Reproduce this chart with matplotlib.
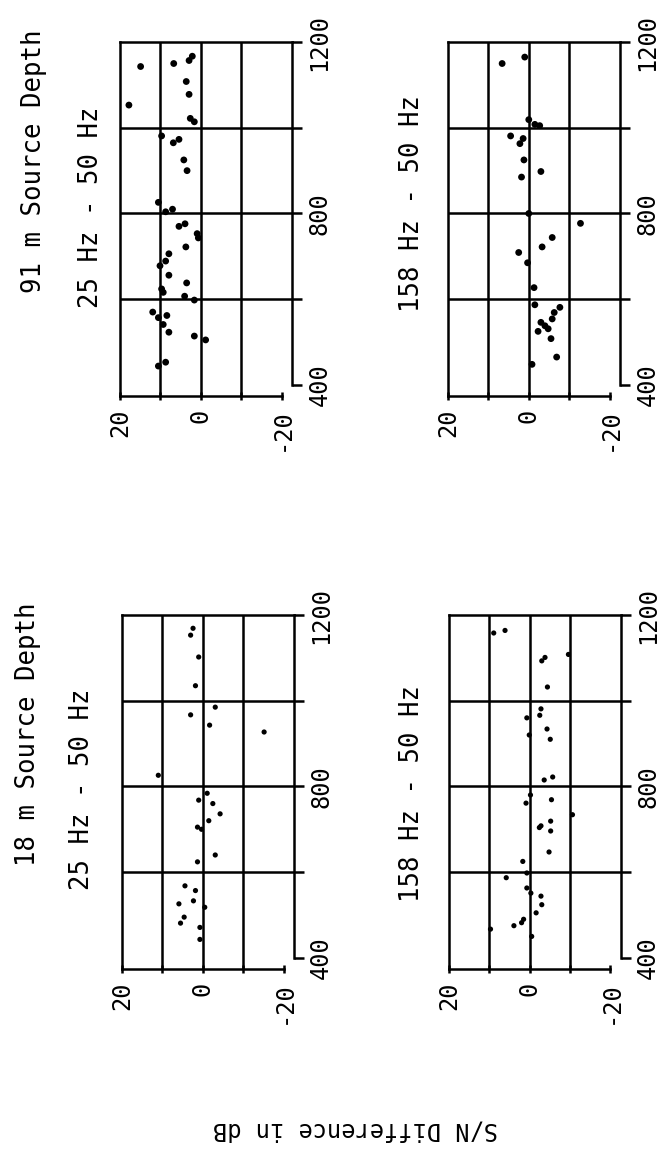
import matplotlib
matplotlib.use('Agg')
import matplotlib.pyplot as plt

plt.rcParams['font.family'] = ['DejaVu Sans Mono']

# S/N difference (dB) vs range, one pair of lists per panel
sn_91_25 = [14.9, 17.8, 6.7, 2.9, 2.1, 3.6, 2.9, 2.6, 1.6, 9.7, 6.8, 5.4, 4.2, 3.4,
            10.5, 8.7, 7.0, 5.4, 3.9, 0.9, 0.6, 3.7, 7.9, 8.7, 10.1, 7.9, 3.5,
            9.7, 9.3, 4.0, 1.6, 11.9, 10.5, 9.3, 7.9, 8.4, 1.6, -1.2, 10.5, 8.7]
rng_91_25 = [1143, 1053, 1150, 1157, 1167, 1108, 1078, 1022, 1014, 981, 965, 973, 925, 900,
             826, 804, 810, 770, 776, 753, 743, 722, 706, 689, 678, 656, 638,
             624, 616, 607, 598, 570, 557, 541, 523, 562, 514, 505, 444, 453]

sn_91_158 = [6.6, 1.0, 0.0, -1.5, -2.7, 4.5, 1.4, 2.2, 1.2, -3.0, 1.8, 0.0, -12.8,
             -5.8, -3.3, 2.5, 0.3, -1.3, -1.5, -3.0, -4.0, -4.8, -2.3, -5.5,
             -6.3, -7.7, -5.8, -6.9, -0.8]
rng_91_158 = [1150, 1165, 1019, 1008, 1005, 981, 975, 963, 925, 898, 885, 800, 777,
              744, 722, 709, 685, 627, 587, 546, 538, 531, 525, 508,
              569, 581, 554, 465, 448]

sn_18_25 = [2.4, 3.0, 1.0, 1.8, -3.1, 3.0, -1.7, -15.2, 11.0, -1.1, 1.0, -2.5, -4.3,
            -1.5, 1.3, 0.3, -3.1, 1.3, 4.4, 1.8, 2.3, 5.9, -0.5, 4.6, 5.5, 0.7, 0.7]
rng_18_25 = [1169, 1153, 1102, 1035, 985, 967, 943, 927, 826, 784, 768, 760, 736,
             720, 705, 700, 640, 624, 568, 557, 533, 526, 518, 495, 481, 471, 443]

sn_18_158 = [8.9, 6.1, -3.0, -3.8, -9.6, -4.4, -2.8, -2.5, 0.7, 0.1, -4.3, -5.1,
             -3.6, -5.7, -5.4, 0.9, -0.2, -10.6, -2.8, -2.4, -5.2, -5.2, -4.8,
             1.7, 5.8, 0.7, 0.7, -0.3, -2.8, -3.0, -1.6, 1.5, 2.0, 3.9, 9.7, -0.5]
rng_18_158 = [1158, 1164, 1093, 1101, 1108, 1032, 981, 966, 960, 920, 934, 910,
              815, 822, 769, 761, 780, 734, 708, 704, 719, 696, 647,
              625, 587, 598, 563, 551, 544, 524, 505, 490, 482, 475, 467, 450]

sn_ticks = [20, 10, 0, -10, -20]
sn_labels = ['20', '', '0', '', '-20']
range_ticks = [400, 600, 800, 1000, 1200]
range_labels = ['400', '', '800', '', '1200']

fig = plt.figure(figsize=(6.72, 11.53), dpi=100)
lw = 1.8


def draw_panel(rect, sn, rng, dot):
    ax = fig.add_axes(rect)
    ax.set_xlim(20, -22.6)
    ax.set_ylim(374, 1200)
    for x in (10, 0, -10):
        ax.axvline(x, color='black', lw=lw, zorder=1)
    for y in (600, 800, 1000):
        ax.axhline(y, color='black', lw=lw, zorder=1)
    ax.scatter(sn, rng, s=dot, c='black', edgecolors='none', zorder=3)

    for side in ('left', 'right', 'top', 'bottom'):
        ax.spines[side].set_linewidth(lw)
    ax.spines['right'].set_bounds(400, 1200)
    ax.spines['bottom'].set_bounds(-20, 20)

    ax.set_xticks(sn_ticks)
    ax.set_xticklabels(sn_labels, rotation=90, fontsize=17)
    ax.tick_params(axis='x', direction='inout', length=6, width=lw, pad=6)

    ax.yaxis.tick_right()
    ax.set_yticks(range_ticks)
    ax.set_yticklabels(range_labels, rotation=90, fontsize=17, va='center')
    ax.tick_params(axis='y', direction='out', length=7, width=lw, pad=4)
    return ax


draw_panel([0.1786, 0.6565, 0.256, 0.307], sn_91_25, rng_91_25, 24)
draw_panel([0.6667, 0.6565, 0.256, 0.307], sn_91_158, rng_91_158, 24)
draw_panel([0.1815, 0.1596, 0.256, 0.307], sn_18_25, rng_18_25, 14)
draw_panel([0.6680, 0.1596, 0.256, 0.307], sn_18_158, rng_18_158, 14)

W, H = 672, 1153
titles = [
    ('91 m Source Depth', 34, 161),
    ('25 Hz - 50 Hz', 91, 207),
    ('158 Hz - 50 Hz', 412, 204),
    ('18 m Source Depth', 28, 734),
    ('25 Hz - 50 Hz', 82, 789),
    ('158 Hz - 50 Hz', 412, 794),
]
for txt, px, py in titles:
    fig.text(px / W, 1 - py / H, txt, rotation=90, ha='center', va='center', fontsize=18.5)

fig.text(355 / W, 1 - 1130 / H, 'S/N Difference in dB', rotation=180,
         ha='center', va='center', fontsize=17)

fig.savefig('out.png', dpi=100)
